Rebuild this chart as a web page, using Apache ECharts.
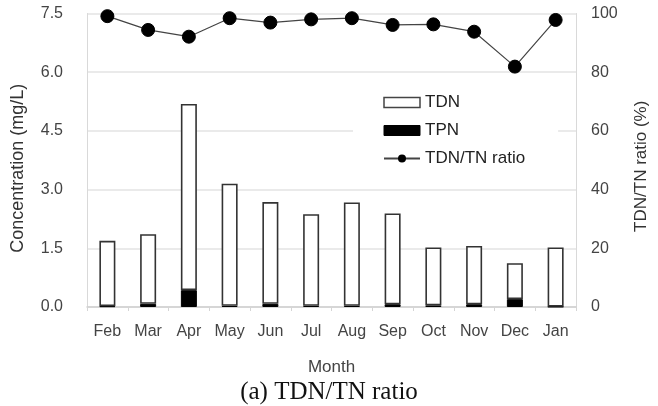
<!DOCTYPE html>
<html>
<head>
<meta charset="utf-8">
<script src="https://cdn.jsdelivr.net/npm/echarts@6/dist/echarts.min.js"></script>
<style>html,body{margin:0;padding:0;background:#fff;}#c{width:658px;height:406px;}</style>
</head>
<body>
<div id="c"></div>
<script>
var months = ['Feb','Mar','Apr','May','Jun','Jul','Aug','Sep','Oct','Nov','Dec','Jan'];
var tdn = [1.67, 1.78, 4.76, 3.12, 2.60, 2.34, 2.64, 2.32, 1.48, 1.49, 0.92, 1.51];
var tpn = [0.02, 0.08, 0.43, 0.03, 0.08, 0.03, 0.03, 0.07, 0.04, 0.07, 0.20, 0.01];
var ratio = [99.1, 94.4, 92.1, 98.4, 96.9, 98.0, 98.4, 96.1, 96.3, 93.8, 81.9, 97.8];
var leftTicks = [0, 7.5, 1.5];
var rightTicks = [0, 100, 20];

var font = 'Liberation Sans, Arial, sans-serif';
var chart = echarts.init(document.getElementById('c'), null, {renderer: 'canvas'});
chart.setOption({
  animation: false,
  backgroundColor: '#fff',
  title: {
    text: '(a) TDN/TN ratio',
    left: 'center',
    top: 375,
    textStyle: {fontFamily: 'Liberation Serif, DejaVu Serif, serif', fontSize: 25, fontWeight: 'normal', color: '#111'}
  },
  grid: {left: 87, right: 82, top: 13.5, bottom: 99},
  legend: {
    orient: 'vertical',
    left: 353,
    top: 88,
    padding: [6, 33, 6, 30],
    backgroundColor: '#fff',
    itemWidth: 36,
    itemHeight: 10,
    itemGap: 11,
    textStyle: {fontFamily: font, fontSize: 17, color: '#222'},
    data: [
      {name: 'TDN', icon: 'rect', itemStyle: {color: '#fff', borderColor: '#444', borderWidth: 1.5}},
      {name: 'TPN', icon: 'rect', itemStyle: {color: '#000', borderColor: '#000', borderWidth: 1}},
      {name: 'TDN/TN ratio'}
    ]
  },
  xAxis: {
    type: 'category',
    data: months,
    name: 'Month',
    nameLocation: 'middle',
    nameGap: 52,
    nameTextStyle: {fontFamily: font, fontSize: 17, color: '#444'},
    axisLine: {lineStyle: {color: '#cfcfcf', width: 1.5}},
    axisTick: {show: true, length: 4, lineStyle: {color: '#d5d5d5'}},
    axisLabel: {fontFamily: font, fontSize: 16, color: '#444', margin: 17}
  },
  yAxis: [
    {
      type: 'value',
      min: leftTicks[0], max: leftTicks[1], interval: leftTicks[2],
      name: 'Concentration (mg/L)',
      nameLocation: 'middle',
      nameGap: 60,
      nameTextStyle: {fontFamily: font, fontSize: 18, color: '#333', padding: [0, 16, 0, 0]},
      axisLine: {show: true, lineStyle: {color: '#d9d9d9'}},
      axisTick: {show: false},
      axisLabel: {fontFamily: font, fontSize: 16, color: '#444', margin: 24, formatter: function (v) { return v.toFixed(1); }},
      splitLine: {lineStyle: {color: '#e3e3e3', width: 1.5}}
    },
    {
      type: 'value',
      min: rightTicks[0], max: rightTicks[1], interval: rightTicks[2],
      name: 'TDN/TN ratio (%)',
      nameLocation: 'middle',
      nameGap: 57,
      nameRotate: 90,
      nameTextStyle: {fontFamily: font, fontSize: 17, color: '#333', padding: [0, 12, 0, 0]},
      axisLine: {show: true, lineStyle: {color: '#d9d9d9'}},
      axisTick: {show: false},
      axisLabel: {fontFamily: font, fontSize: 16, color: '#444', margin: 15},
      splitLine: {show: false}
    }
  ],
  series: [
    {
      name: 'TPN', type: 'bar', stack: 'tn', barWidth: 16,
      data: tpn,
      itemStyle: {color: '#000', borderColor: '#000', borderWidth: 1}
    },
    {
      name: 'TDN', type: 'bar', stack: 'tn', barWidth: 16,
      data: tdn,
      itemStyle: {color: '#fff', borderColor: '#333', borderWidth: 1.6}
    },
    {
      name: 'TDN/TN ratio', type: 'line', yAxisIndex: 1,
      data: ratio,
      symbol: 'circle', symbolSize: 13,
      lineStyle: {color: '#444', width: 1.2},
      itemStyle: {color: '#000', borderColor: '#000'},
      z: 5
    }
  ]
});
</script>
</body>
</html>
